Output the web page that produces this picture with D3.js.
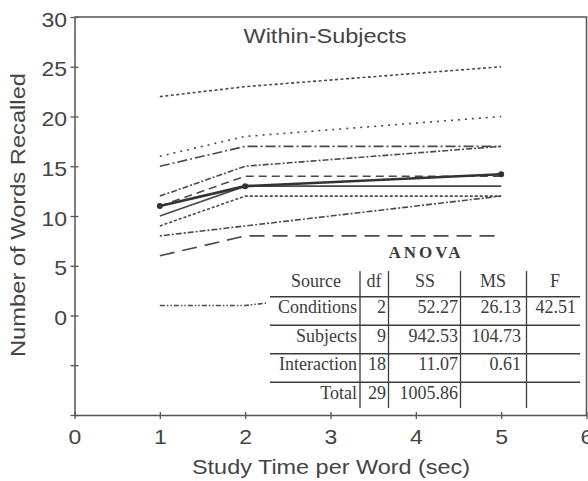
<!DOCTYPE html>
<html>
<head>
<meta charset="utf-8">
<script src="https://cdn.jsdelivr.net/npm/d3@7"></script>
<style>
  body { margin: 0; background: #fff; }
  svg { display: block; }
</style>
</head>
<body>
<div id="chart"></div>
<script>
// study time per word (sec) for each condition
var studyTimes = [1, 2, 5];

// words recalled, one row per subject (conditions 1, 2, 5 sec)
var subjects = [
  [22, 23, 25],
  [16, 18, 20],
  [15, 17, 17],
  [12, 15, 17],
  [11, 14, 14],
  [10, 13, 13],
  [9, 12, 12],
  [8, 9, 12],
  [6, 8, 8],
  [1, 1, 4]
];
// condition means (thick line)
var means = [11, 13, 14.2];

var xTicks = [0, 1, 2, 3, 4, 5, 6];
var yTicks = [-10, -5, 0, 5, 10, 15, 20, 25, 30];

// ANOVA table
var anovaHead = ["Source", "df", "SS", "MS", "F"];
var anovaSource = ["Conditions", "Subjects", "Interaction", "Total"];
var anovaDf = ["2", "9", "18", "29"];
var anovaSS = ["52.27", "942.53", "11.07", "1005.86"];
var anovaMS = ["26.13", "104.73", "0.61", ""];
var anovaF = ["42.51", "", "", ""];

// line styles for each subject
var dashes = ["3,2.5", "2,5", "10,3,2,3", "6,2,2,2", "8,5", null, "3,2", "2,2,6,2", "15,8", "5,2,1.5,2,1.5,2"];

var width = 588, height = 481;
var ink = "#3c3c3c";
var sans = "'Liberation Sans', Arial, Helvetica, sans-serif";
var serif = "'Liberation Serif', 'Times New Roman', serif";

var svg = d3.select("#chart").append("svg")
  .attr("width", width)
  .attr("height", height);

var x = d3.scaleLinear().domain([0, 6]).range([74.5, 586.5]);
var y = d3.scaleLinear().domain([-10, 30]).range([415, 17]);

var line = d3.line()
  .x(function(d, i) { return x(studyTimes[i]); })
  .y(function(d) { return y(d); });

// subject lines
svg.append("g")
  .selectAll("path")
  .data(subjects)
  .enter()
  .append("path")
  .attr("d", line)
  .attr("fill", "none")
  .attr("stroke", "#4a4a4a")
  .attr("stroke-width", 1.6)
  .attr("stroke-dasharray", function(d, i) { return dashes[i]; });

// mean line with markers
svg.append("path")
  .attr("d", line(means))
  .attr("fill", "none")
  .attr("stroke", "#333")
  .attr("stroke-width", 2.6);

svg.append("g")
  .selectAll("circle")
  .data(means)
  .enter()
  .append("circle")
  .attr("cx", function(d, i) { return x(studyTimes[i]); })
  .attr("cy", function(d) { return y(d); })
  .attr("r", 3)
  .attr("fill", "#333");

// ANOVA table, white box hides the lines behind it
var table = svg.append("g");
table.append("rect")
  .attr("x", 266).attr("y", 240)
  .attr("width", 320).attr("height", 174)
  .attr("fill", "#fff");

table.append("text")
  .attr("x", 426).attr("y", 258)
  .attr("text-anchor", "middle")
  .attr("font-family", serif)
  .attr("font-weight", "bold")
  .attr("font-size", 17)
  .attr("letter-spacing", 3)
  .attr("fill", ink)
  .text("ANOVA");

var headX = [316, 374, 425, 493, 555];
var colRight = [357, 386, 458, 521, 576];
var colLines = [360, 388.5, 460.5, 526.5];
var rowBase = function(i) { return 313 + 28.5 * i; };

table.selectAll(".head")
  .data(anovaHead)
  .enter()
  .append("text")
  .attr("x", function(d, i) { return headX[i]; })
  .attr("y", 287)
  .attr("text-anchor", "middle")
  .attr("font-family", serif)
  .attr("font-size", 18)
  .attr("fill", ink)
  .text(function(d) { return d; });

var columns = [anovaSource, anovaDf, anovaSS, anovaMS, anovaF];
columns.forEach(function(col, c) {
  table.selectAll(".c" + c)
    .data(col)
    .enter()
    .append("text")
    .attr("x", colRight[c])
    .attr("y", function(d, i) { return rowBase(i); })
    .attr("text-anchor", "end")
    .attr("font-family", serif)
    .attr("font-size", 18)
    .attr("fill", ink)
    .text(function(d) { return d; });
});

table.selectAll(".hrule")
  .data(anovaSource)
  .enter()
  .append("line")
  .attr("x1", 270).attr("x2", 580)
  .attr("y1", function(d, i) { return rowBase(i) - 16.3; })
  .attr("y2", function(d, i) { return rowBase(i) - 16.3; })
  .attr("stroke", ink)
  .attr("stroke-width", 1.5);

table.selectAll(".vrule")
  .data(colLines)
  .enter()
  .append("line")
  .attr("x1", function(d) { return d; })
  .attr("x2", function(d) { return d; })
  .attr("y1", 271).attr("y2", 408)
  .attr("stroke", ink)
  .attr("stroke-width", 1.3);

// frame (top and right)
svg.append("path")
  .attr("d", "M" + x(0) + "," + y(30) + "H" + x(6) + "V" + y(-10))
  .attr("fill", "none")
  .attr("stroke", "#555")
  .attr("stroke-width", 1.5);

// axes
var xAxis = svg.append("g")
  .attr("transform", "translate(0," + y(-10) + ")")
  .call(d3.axisBottom(x).tickValues(xTicks).tickFormat(d3.format("d"))
    .tickSizeInner(4).tickSizeOuter(0).tickPadding(11));

var yAxis = svg.append("g")
  .attr("transform", "translate(" + x(0) + ",0)")
  .call(d3.axisLeft(y).tickValues(yTicks).tickSizeInner(4).tickSizeOuter(0)
    .tickFormat(function(d) { return d >= 0 ? d : ""; }));

[xAxis, yAxis].forEach(function(ax) {
  ax.select(".domain").attr("stroke", "#555").attr("stroke-width", 1.5);
  ax.selectAll(".tick line").attr("stroke", "#555").attr("stroke-width", 1.3);
  ax.selectAll(".tick text")
    .attr("font-family", sans)
    .attr("font-size", 20)
    .attr("fill", "#444")
    .attr("transform", "scale(1.15,1)");
});
xAxis.selectAll(".tick line").attr("y1", -3);
yAxis.selectAll(".tick line").attr("x1", 4);
yAxis.selectAll(".tick text").attr("x", -6.5).attr("dy", "0.45em");

// titles
svg.append("text")
  .attr("x", 325).attr("y", 43)
  .attr("text-anchor", "middle")
  .attr("font-family", sans)
  .attr("font-size", 20)
  .attr("fill", "#444")
  .attr("textLength", 163)
  .attr("lengthAdjust", "spacingAndGlyphs")
  .text("Within-Subjects");

svg.append("text")
  .attr("x", 331).attr("y", 474)
  .attr("text-anchor", "middle")
  .attr("font-family", sans)
  .attr("font-size", 20)
  .attr("fill", "#444")
  .attr("textLength", 278)
  .attr("lengthAdjust", "spacingAndGlyphs")
  .text("Study Time per Word (sec)");

svg.append("text")
  .attr("transform", "translate(25,215) rotate(-90)")
  .attr("text-anchor", "middle")
  .attr("font-family", sans)
  .attr("font-size", 20)
  .attr("fill", "#444")
  .attr("textLength", 284)
  .attr("lengthAdjust", "spacingAndGlyphs")
  .text("Number of Words Recalled");
</script>
</body>
</html>
